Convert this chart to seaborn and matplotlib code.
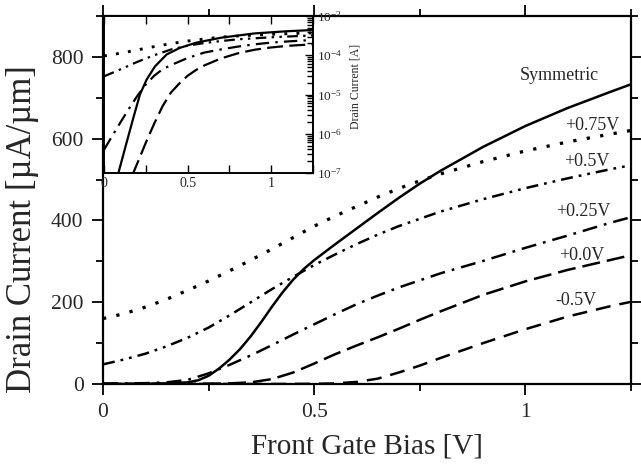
import numpy as np
import pandas as pd
import seaborn as sns
import matplotlib
matplotlib.use("Agg")
import matplotlib.pyplot as plt
from matplotlib.ticker import MultipleLocator, LogLocator, NullFormatter

# main plot: drain current [uA/um] vs front gate bias [V]
sym_v = [0, 0.1, 0.15, 0.2, 0.225, 0.25, 0.275, 0.3, 0.325, 0.35, 0.375, 0.4, 0.425, 0.45, 0.475, 0.5, 0.55, 0.6, 0.65, 0.7, 0.75, 0.8, 0.9, 1.0, 1.1, 1.2, 1.25]
sym_i = [0, 0.5, 1.5, 4, 9, 20, 38, 60, 86, 117, 152, 189, 224, 255, 281, 303, 342, 380, 418, 455, 490, 522, 580, 631, 675, 714, 733]

p075_v = [0, 0.05, 0.1, 0.15, 0.2, 0.25, 0.3, 0.35, 0.4, 0.45, 0.5, 0.55, 0.6, 0.65, 0.7, 0.75, 0.8, 0.9, 1.0, 1.1, 1.2, 1.25]
p075_i = [160, 172, 188, 207, 229, 252, 277, 303, 330, 358, 386, 411, 434, 457, 478, 497, 514, 544, 570, 592, 611, 620]

p05_v = [0, 0.05, 0.1, 0.15, 0.2, 0.25, 0.3, 0.35, 0.4, 0.45, 0.5, 0.55, 0.6, 0.65, 0.7, 0.8, 0.9, 1.0, 1.1, 1.2, 1.25]
p05_i = [48, 60, 74, 92, 113, 138, 168, 200, 232, 262, 291, 317, 342, 365, 386, 422, 452, 479, 503, 525, 535]

p025_v = [0, 0.1, 0.15, 0.2, 0.25, 0.3, 0.35, 0.4, 0.45, 0.5, 0.55, 0.6, 0.65, 0.7, 0.8, 0.9, 1.0, 1.1, 1.2, 1.25]
p025_i = [1, 2, 4, 10, 26, 47, 70, 95, 121, 146, 171, 195, 216, 236, 271, 301, 333, 363, 394, 408]

p00_v = [0, 0.2, 0.3, 0.35, 0.4, 0.45, 0.5, 0.55, 0.6, 0.65, 0.7, 0.75, 0.8, 0.9, 1.0, 1.1, 1.2, 1.25]
p00_i = [0, 0.3, 1.5, 4, 12, 28, 50, 73, 94, 114, 135, 157, 178, 218, 251, 279, 303, 315]

m05_v = [0, 0.4, 0.5, 0.55, 0.6, 0.65, 0.7, 0.75, 0.8, 0.85, 0.9, 1.0, 1.1, 1.2, 1.25]
m05_i = [0, 0.1, 0.5, 1.5, 5, 13, 28, 45, 64, 82, 100, 134, 165, 190, 201]

# inset: drain current [A], log scale
ins_sym_v = [0.08, 0.126, 0.175, 0.215, 0.255, 0.305, 0.375, 0.455, 0.554, 0.7, 0.9, 1.1, 1.25]
ins_sym_i = [8.0e-8, 4.3e-7, 2.5e-6, 1.0e-5, 2.4e-5, 5.2e-5, 1.05e-4, 1.55e-4, 2.1e-4, 2.8e-4, 3.6e-4, 4.1e-4, 4.4e-4]

ins_p075_v = [0, 0.1, 0.2, 0.3, 0.4, 0.5, 0.6, 0.7, 0.8, 0.9, 1.0, 1.1, 1.25]
ins_p075_i = [9.6e-5, 1.13e-4, 1.37e-4, 1.66e-4, 1.98e-4, 2.3e-4, 2.6e-4, 2.9e-4, 3.1e-4, 3.27e-4, 3.42e-4, 3.55e-4, 3.72e-4]

ins_p05_v = [0, 0.1, 0.2, 0.3, 0.4, 0.5, 0.6, 0.7, 0.8, 0.9, 1.0, 1.1, 1.25]
ins_p05_i = [2.9e-5, 4.4e-5, 6.8e-5, 1.0e-4, 1.4e-4, 1.75e-4, 2.05e-4, 2.3e-4, 2.55e-4, 2.7e-4, 2.87e-4, 3.0e-4, 3.2e-4]

ins_p025_v = [0, 0.05, 0.1, 0.15, 0.2, 0.25, 0.3, 0.35, 0.4, 0.5, 0.6, 0.7, 0.8, 0.9, 1.0, 1.1, 1.25]
ins_p025_i = [3.9e-7, 8.9e-7, 2.0e-6, 4.4e-6, 9.3e-6, 1.8e-5, 3.0e-5, 4.4e-5, 5.6e-5, 8.5e-5, 1.17e-4, 1.41e-4, 1.66e-4, 1.9e-4, 2.1e-4, 2.25e-4, 2.45e-4]

ins_p00_v = [0.17, 0.2, 0.25, 0.3, 0.35, 0.4, 0.45, 0.5, 0.55, 0.6, 0.7, 0.8, 0.9, 1.0, 1.1, 1.25]
ins_p00_i = [8.9e-8, 1.8e-7, 5.9e-7, 1.8e-6, 5.0e-6, 1.12e-5, 1.9e-5, 3.0e-5, 4.2e-5, 5.5e-5, 8.3e-5, 1.12e-4, 1.38e-4, 1.58e-4, 1.74e-4, 1.9e-4]

labels = ["Symmetric", "+0.75V", "+0.5V", "+0.25V", "+0.0V", "-0.5V"]
label_x = [1.081, 1.158, 1.145, 1.136, 1.133, 1.119]
label_y = [754, 632, 543, 423, 315, 205]

sns.set_style("ticks")
plt.rcParams['font.family'] = ['Liberation Serif', 'DejaVu Serif']
plt.rcParams['mathtext.fontset'] = 'stix'

# (linestyle, width factor) per series
ls_sym = ('-', 1.0)
ls_p075 = ((0, (1, 3.2)), 1.3)
ls_p05 = ((0, (4.8, 2.4, 1.1, 2.4, 1.1, 2.4)), 1.0)
ls_p025 = ((0, (6, 2.8, 1.1, 2.8)), 1.0)
ls_p00 = ((0, (7.2, 2.8)), 1.0)
ls_m05 = ((0, (6, 3.6)), 1.0)

fig = plt.figure(figsize=(6.41, 4.66), dpi=100)
ax = fig.add_axes([103/641, 1-384/466, 528/641, 368/466])

for v, i, (ls, f) in [(sym_v, sym_i, ls_sym), (p075_v, p075_i, ls_p075), (p05_v, p05_i, ls_p05),
                      (p025_v, p025_i, ls_p025), (p00_v, p00_i, ls_p00), (m05_v, m05_i, ls_m05)]:
    sns.lineplot(x=v, y=i, ax=ax, color='k', lw=1.8 * f, linestyle=ls)

ax.set_xlim(0, 1.25)
ax.set_ylim(0, 900)
ax.xaxis.set_major_locator(MultipleLocator(0.5))
ax.xaxis.set_minor_locator(MultipleLocator(0.25))
ax.yaxis.set_major_locator(MultipleLocator(200))
ax.yaxis.set_minor_locator(MultipleLocator(100))
ax.xaxis.set_major_formatter(lambda x, p: '%g' % x)
ax.tick_params(which='both', direction='out', top=True, right=True, width=1.3, color='k')
ax.tick_params(which='major', length=8, labelsize=15.5, pad=6)
ax.tick_params(which='minor', length=5)
for s in ax.spines.values():
    s.set_linewidth(1.6)
    s.set_color('k')
ax.set_xlabel("Front Gate Bias [V]", fontsize=21)
ax.set_ylabel("Drain Current [µA/µm]", fontsize=25)
ax.xaxis.set_label_coords(0.5, -0.135)
ax.yaxis.set_label_coords(-0.122, 0.42)

for t, x, y in zip(labels, label_x, label_y):
    ax.text(x, y, t, ha='center', va='center', fontsize=13)

# inset
ins = fig.add_axes([104/641, 1-173/466, 209/641, 157/466])
ins.set_facecolor('white')
ins.set_yscale('log')
for v, i, (ls, f) in [(ins_sym_v, ins_sym_i, ls_sym), (ins_p075_v, ins_p075_i, ls_p075),
                      (ins_p05_v, ins_p05_i, ls_p05), (ins_p025_v, ins_p025_i, ls_p025),
                      (ins_p00_v, ins_p00_i, ls_p00)]:
    sns.lineplot(x=v, y=i, ax=ins, color='k', lw=1.6 * f, linestyle=ls)
ins.set_xlim(0, 1.25)
ins.set_ylim(1e-7, 1e-3)
ins.xaxis.set_major_locator(MultipleLocator(0.5))
ins.xaxis.set_minor_locator(MultipleLocator(0.25))
ins.xaxis.set_major_formatter(lambda x, p: '%g' % x)
ins.yaxis.set_major_locator(LogLocator(base=10, numticks=10))
ins.yaxis.set_minor_locator(LogLocator(base=10, subs=np.arange(2, 10), numticks=10))
ins.yaxis.set_minor_formatter(NullFormatter())
ins.yaxis.tick_right()
ins.yaxis.set_label_position('right')
ins.tick_params(which='both', direction='in', top=True, bottom=True, left=False, right=True, width=1.0, color='k')
ins.tick_params(which='major', length=6, labelsize=10, pad=3)
ins.tick_params(which='minor', length=4)
ins.tick_params(axis='y', labelsize=9.5)
ins.tick_params(axis='x', which='minor', length=6)
for s in ins.spines.values():
    s.set_linewidth(1.4)
    s.set_color('k')
ins.set_xlabel("")
ins.set_ylabel("Drain Current [A]", fontsize=8.5)
ins.yaxis.set_label_coords(1.175, 0.55)

fig.savefig("out.png", dpi=100)
